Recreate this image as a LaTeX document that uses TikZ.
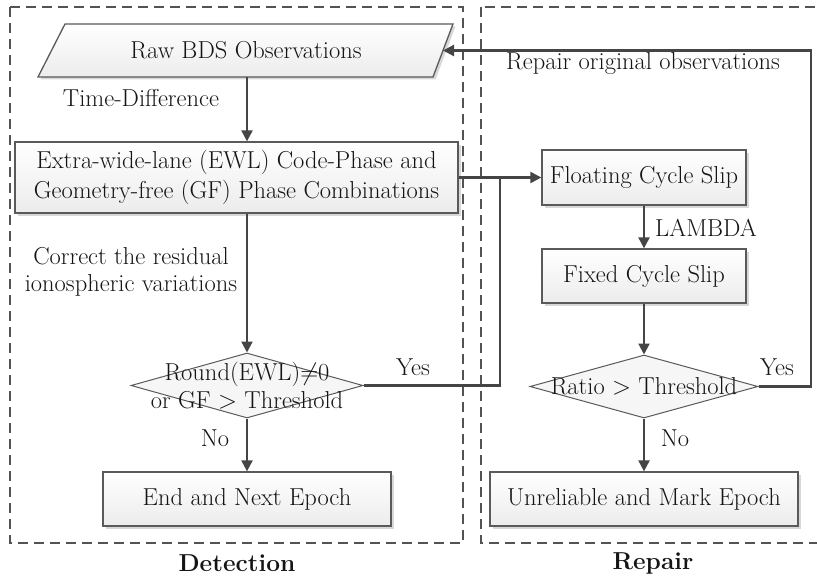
\documentclass[tikz,border=0pt]{standalone}
\usetikzlibrary{arrows.meta,shadows,calc,shapes.geometric}
\definecolor{lineclr}{HTML}{454545}
\definecolor{boxline}{HTML}{5A5A5A}
\definecolor{txt}{HTML}{151515}
\begin{document}
\begin{tikzpicture}[x=1pt,y=-1pt,
  font=\fontsize{24.5}{28}\selectfont,
  box/.style={draw=boxline, line width=1.3pt, top color=white, bottom color=gray!15,
    drop shadow={shadow xshift=2.5pt, shadow yshift=-2.5pt, fill=gray!50, opacity=0.6},
    inner sep=0pt, align=center, text=txt},
  dia/.style={diamond, draw=boxline, line width=1pt, fill=gray!7, inner sep=0pt},
  conn/.style={draw=lineclr, line width=2.2pt},
  arr/.style={conn, -{Triangle[length=11pt,width=11pt]}},
  frame/.style={draw=gray!65!black, line width=1.5pt, dash pattern=on 10pt off 6pt},
  lbl/.style={text=txt, inner sep=0pt, align=center}]
\clip (0,0) rectangle (817,578);
\fill[white] (0,0) rectangle (817,578);
% frames
\draw[frame] (10,7) rectangle (463,543);
\draw[frame] (481,7) rectangle (840,543);
% raw observations (parallelogram)
\coordinate (rawsw) at (38,77);
\coordinate (rawnw) at (65,24);
\coordinate (rawne) at (453,24);
\coordinate (rawse) at (433,77);
\path[box] (rawsw) -- (rawnw) -- (rawne) -- (rawse) -- cycle;
\node[lbl] (raw) at (246,50.5) {Raw BDS Observations};
\coordinate (rawin) at ($(rawne)!0.5!(rawse)$);
\coordinate (rawout) at (247,77);
% boxes
\node[box, minimum width=443pt, minimum height=71pt, font=\fontsize{24.5}{30}\selectfont] (ewl) at (236.5,177.5) {Extra-wide-lane (EWL) Code-Phase and\\Geometry-free (GF) Phase Combinations};
\node[box, minimum width=204pt, minimum height=55pt] (float) at (644,177.5) {Floating Cycle Slip};
\node[box, minimum width=204pt, minimum height=54pt] (fixed) at (644,276) {Fixed Cycle Slip};
\node[box, minimum width=288pt, minimum height=54pt] (end) at (247,499) {End and Next Epoch};
\node[box, minimum width=308pt, minimum height=54pt] (unrel) at (644,499) {Unreliable and Mark Epoch};
% diamonds
\node[dia, minimum width=232pt, minimum height=65pt] (d1) at (247,385.5) {};
\node[lbl] (d1txt) at (d1.center) {Round(EWL)$\neq$0\\or GF $>$ Threshold};
\node[dia, minimum width=228pt, minimum height=63pt] (d2) at (644,386.5) {};
\node[lbl] (d2txt) at (d2.center) {Ratio $>$ Threshold};
% connectors
\draw[arr] (rawout) -- (rawout |- ewl.north);
\draw[arr] (ewl.south -| d1.north) -- (d1.north);
\draw[arr] (ewl.east) -- (float.west);
\coordinate (join) at ($(ewl.east)!0.5!(float.west)$);
\draw[conn] (d1.east) -| (join);
\draw[arr] (float.south) -- (fixed.north);
\draw[arr] (fixed.south) -- (d2.north);
\draw[arr] (d1.south) -- (end.north);
\draw[arr] (d2.south) -- (unrel.north);
\coordinate (corner) at (811,50.5);
\draw[arr] (d2.east) -| (corner) -- (rawin);
% labels
\node[lbl] (l1) at (141,98) {Time-Difference};
\node[lbl, font=\fontsize{24.5}{27}\selectfont] (l2) at (131,271.5) {Correct the residual\\ionospheric variations};
\node[lbl] (l3) at (413,367) {Yes};
\node[lbl] (l4) at (215,438) {No};
\node[lbl] (l5) at (706,228) {LAMBDA};
\node[lbl] (l6) at (643,63) {Repair original observations};
\node[lbl] (l7) at (777,367) {Yes};
\node[lbl] (l8) at (675,438) {No};
\node[lbl, font=\fontsize{24.5}{28}\selectfont\bfseries] (l9) at (237,563) {Detection};
\node[lbl, font=\fontsize{24.5}{28}\selectfont\bfseries] (l10) at (653,563) {Repair};
\end{tikzpicture}
\end{document}
